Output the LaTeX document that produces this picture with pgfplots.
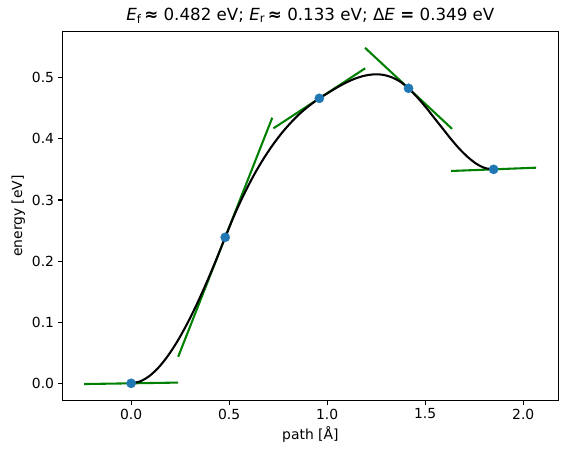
\documentclass[border=0pt]{standalone}
\usepackage{fontspec}
\setmainfont{DejaVu Sans}
\usepackage{pgfplots}
\pgfplotsset{compat=1.18}

\definecolor{mplblue}{HTML}{1F77B4}
\definecolor{mplgreen}{HTML}{008000}

\begin{document}
\begin{tikzpicture}
\begin{axis}[
    name=ax,
    width=495.8pt, height=368.6pt, scale only axis,
    xmin=-0.350, xmax=2.179,
    ymin=-0.0278, ymax=0.5753,
    xtick={0,0.5,1,1.5,2},
    ytick={0,0.1,0.2,0.3,0.4,0.5},
    tick align=outside,
    major tick length=4.9pt,
    xtick pos=bottom, ytick pos=left,
    axis line style={line width=1.1pt},
    every tick/.style={black, line width=1.1pt},
    /pgf/number format/assume math mode=true,
    xticklabel style={/pgf/number format/.cd, fixed, fixed zerofill, precision=1},
    yticklabel style={/pgf/number format/.cd, fixed, fixed zerofill, precision=1},
    tick label style={font=\fontsize{13.9}{16}\selectfont},
    label style={font=\fontsize{13.9}{16}\selectfont},
    xlabel={path [Å]},
    ylabel={energy [eV]},
    title={\textit{E}\textsubscript{f}\,\textbf{≈} 0.482 eV; \textit{E}\textsubscript{r}\,\textbf{≈} 0.133 eV; Δ\textit{E} \textbf{=} 0.349 eV},
    title style={font=\fontsize{16.7}{19}\selectfont, at={(0.5,1)}, anchor=south, yshift=-1pt},
    clip=false,
]
% images
\addplot[only marks, mark=*, mark size=4.6pt, mplblue, mark options={draw=mplblue, fill=mplblue}] coordinates {
    (0.000, 0.0000) (0.480, 0.2389) (0.960, 0.4663) (1.415, 0.4827) (1.849, 0.3501)
};
% tangents
\addplot[mplgreen, line width=2.08pt] coordinates {(-0.240, -0.0012) (0.240, 0.0012)};
\addplot[mplgreen, line width=2.08pt] coordinates {(0.240, 0.0434) (0.720, 0.4346)};
\addplot[mplgreen, line width=2.08pt] coordinates {(0.726, 0.4172) (1.194, 0.5154)};
\addplot[mplgreen, line width=2.08pt] coordinates {(1.193, 0.5490) (1.637, 0.4164)};
\addplot[mplgreen, line width=2.08pt] coordinates {(1.632, 0.3474) (2.066, 0.3528)};
% fitted band
\addplot[black, line width=2.08pt, smooth] coordinates {
    (0.000, 0.0000) (0.048, 0.0034) (0.096, 0.0126) (0.144, 0.0273) (0.192, 0.0469)
    (0.240, 0.0709) (0.288, 0.0988) (0.336, 0.1300) (0.384, 0.1642) (0.432, 0.2006)
    (0.480, 0.2389) (0.528, 0.2762) (0.576, 0.3095) (0.624, 0.3393) (0.672, 0.3657)
    (0.720, 0.3889) (0.768, 0.4093) (0.816, 0.4269) (0.864, 0.4422) (0.912, 0.4551)
    (0.960, 0.4663) (1.006, 0.4754) (1.051, 0.4842) (1.097, 0.4921) (1.142, 0.4985)
    (1.188, 0.5031) (1.233, 0.5054) (1.279, 0.5050) (1.324, 0.5014) (1.370, 0.4941)
    (1.415, 0.4827) (1.458, 0.4685) (1.502, 0.4522) (1.545, 0.4347) (1.589, 0.4169)
    (1.632, 0.3995) (1.675, 0.3835) (1.719, 0.3697) (1.762, 0.3590) (1.806, 0.3521)
    (1.849, 0.3501)
};
\end{axis}
\pgfresetboundingbox
\path ([shift={(-62.5pt,-55.7pt)}]ax.south west) rectangle ([shift={(8.7pt,31.7pt)}]ax.north east);
\end{tikzpicture}
\end{document}
